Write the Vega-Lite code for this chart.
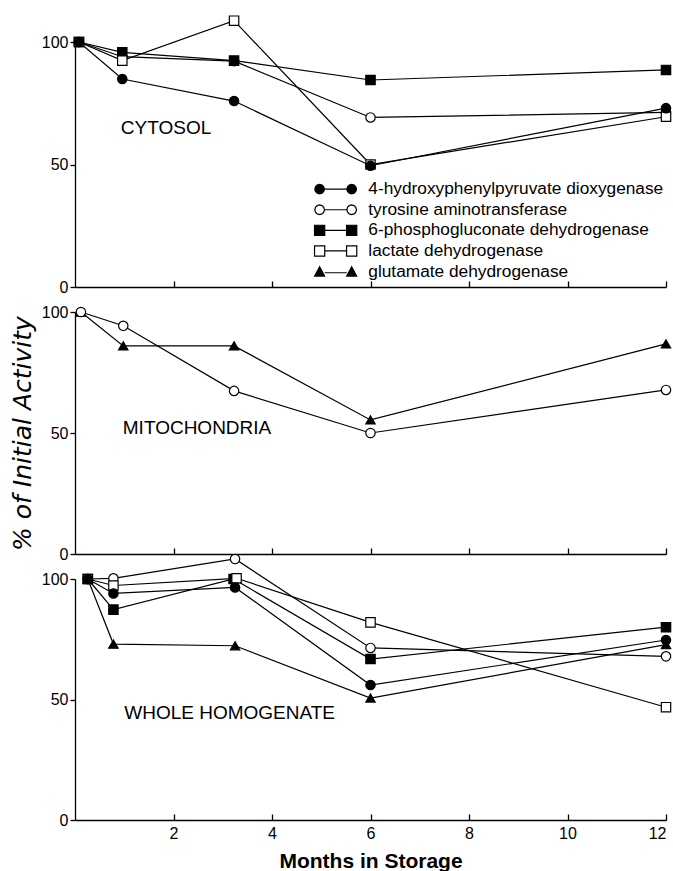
{
  "$schema": "https://vega.github.io/schema/vega-lite/v6.json",
  "padding": {"left": 10, "top": 13, "right": 0, "bottom": 0},
  "background": "white",
  "datasets": {
    "enz": [
      {"panel": "C", "enzyme": "tyrosine aminotransferase", "month": 0.08, "value": 100},
      {"panel": "C", "enzyme": "tyrosine aminotransferase", "month": 0.96, "value": 94},
      {"panel": "C", "enzyme": "tyrosine aminotransferase", "month": 3.23, "value": 92.2},
      {"panel": "C", "enzyme": "tyrosine aminotransferase", "month": 6, "value": 69.2},
      {"panel": "C", "enzyme": "tyrosine aminotransferase", "month": 12, "value": 71.3},
      {"panel": "C", "enzyme": "6-phosphogluconate dehydrogenase", "month": 0.08, "value": 100},
      {"panel": "C", "enzyme": "6-phosphogluconate dehydrogenase", "month": 0.96, "value": 95.8},
      {"panel": "C", "enzyme": "6-phosphogluconate dehydrogenase", "month": 3.23, "value": 92.4},
      {"panel": "C", "enzyme": "6-phosphogluconate dehydrogenase", "month": 6, "value": 84.5},
      {"panel": "C", "enzyme": "6-phosphogluconate dehydrogenase", "month": 12, "value": 88.6},
      {"panel": "C", "enzyme": "lactate dehydrogenase", "month": 0.08, "value": 100},
      {"panel": "C", "enzyme": "lactate dehydrogenase", "month": 0.96, "value": 92.4},
      {"panel": "C", "enzyme": "lactate dehydrogenase", "month": 3.23, "value": 108.7},
      {"panel": "C", "enzyme": "lactate dehydrogenase", "month": 6, "value": 50},
      {"panel": "C", "enzyme": "lactate dehydrogenase", "month": 12, "value": 69.5},
      {"panel": "C", "enzyme": "4-hydroxyphenylpyruvate dioxygenase", "month": 0.08, "value": 100},
      {"panel": "C", "enzyme": "4-hydroxyphenylpyruvate dioxygenase", "month": 0.96, "value": 84.9},
      {"panel": "C", "enzyme": "4-hydroxyphenylpyruvate dioxygenase", "month": 3.23, "value": 75.9},
      {"panel": "C", "enzyme": "4-hydroxyphenylpyruvate dioxygenase", "month": 6, "value": 49.5},
      {"panel": "C", "enzyme": "4-hydroxyphenylpyruvate dioxygenase", "month": 12, "value": 73},
      {"panel": "M", "enzyme": "glutamate dehydrogenase", "month": 0.12, "value": 100},
      {"panel": "M", "enzyme": "glutamate dehydrogenase", "month": 0.98, "value": 86},
      {"panel": "M", "enzyme": "glutamate dehydrogenase", "month": 3.23, "value": 86},
      {"panel": "M", "enzyme": "glutamate dehydrogenase", "month": 6, "value": 55.4},
      {"panel": "M", "enzyme": "glutamate dehydrogenase", "month": 12, "value": 86.8},
      {"panel": "M", "enzyme": "tyrosine aminotransferase", "month": 0.12, "value": 100},
      {"panel": "M", "enzyme": "tyrosine aminotransferase", "month": 0.98, "value": 94.3},
      {"panel": "M", "enzyme": "tyrosine aminotransferase", "month": 3.23, "value": 67.4},
      {"panel": "M", "enzyme": "tyrosine aminotransferase", "month": 6, "value": 50},
      {"panel": "M", "enzyme": "tyrosine aminotransferase", "month": 12, "value": 67.8},
      {"panel": "W", "enzyme": "tyrosine aminotransferase", "month": 0.26, "value": 100},
      {"panel": "W", "enzyme": "tyrosine aminotransferase", "month": 0.78, "value": 100.3},
      {"panel": "W", "enzyme": "tyrosine aminotransferase", "month": 3.25, "value": 108.3},
      {"panel": "W", "enzyme": "tyrosine aminotransferase", "month": 6, "value": 71.4},
      {"panel": "W", "enzyme": "tyrosine aminotransferase", "month": 12, "value": 67.9},
      {"panel": "W", "enzyme": "6-phosphogluconate dehydrogenase", "month": 0.26, "value": 100},
      {"panel": "W", "enzyme": "6-phosphogluconate dehydrogenase", "month": 0.78, "value": 87.3},
      {"panel": "W", "enzyme": "6-phosphogluconate dehydrogenase", "month": 3.22, "value": 100},
      {"panel": "W", "enzyme": "6-phosphogluconate dehydrogenase", "month": 6, "value": 66.8},
      {"panel": "W", "enzyme": "6-phosphogluconate dehydrogenase", "month": 12, "value": 80},
      {"panel": "W", "enzyme": "lactate dehydrogenase", "month": 0.26, "value": 100},
      {"panel": "W", "enzyme": "lactate dehydrogenase", "month": 0.78, "value": 97.3},
      {"panel": "W", "enzyme": "lactate dehydrogenase", "month": 3.28, "value": 100.3},
      {"panel": "W", "enzyme": "lactate dehydrogenase", "month": 6, "value": 82},
      {"panel": "W", "enzyme": "lactate dehydrogenase", "month": 12, "value": 46.8},
      {"panel": "W", "enzyme": "glutamate dehydrogenase", "month": 0.26, "value": 100},
      {"panel": "W", "enzyme": "glutamate dehydrogenase", "month": 0.78, "value": 73},
      {"panel": "W", "enzyme": "glutamate dehydrogenase", "month": 3.25, "value": 72.3},
      {"panel": "W", "enzyme": "glutamate dehydrogenase", "month": 6, "value": 50.6},
      {"panel": "W", "enzyme": "glutamate dehydrogenase", "month": 12, "value": 72.8},
      {"panel": "W", "enzyme": "4-hydroxyphenylpyruvate dioxygenase", "month": 0.26, "value": 100},
      {"panel": "W", "enzyme": "4-hydroxyphenylpyruvate dioxygenase", "month": 0.78, "value": 94},
      {"panel": "W", "enzyme": "4-hydroxyphenylpyruvate dioxygenase", "month": 3.25, "value": 96.5},
      {"panel": "W", "enzyme": "4-hydroxyphenylpyruvate dioxygenase", "month": 6, "value": 56},
      {"panel": "W", "enzyme": "4-hydroxyphenylpyruvate dioxygenase", "month": 12, "value": 74.7}
    ]
  },
  "config": {
    "view": {"stroke": null},
    "axis": {
      "grid": false,
      "domainColor": "black",
      "domainWidth": 1.3,
      "tickColor": "black",
      "tickWidth": 1.3,
      "labelColor": "black",
      "labelFont": "Liberation Sans",
      "labelFontSize": 16,
      "titleColor": "black",
      "titleFont": "Liberation Sans"
    },
    "legend": {"labelFont": "Liberation Sans", "labelColor": "black"}
  },
  "bounds": "flush",
  "spacing": 25,
  "resolve": {
    "scale": {"shape": "independent", "fill": "independent"},
    "legend": {"shape": "independent", "fill": "independent"}
  },
  "vconcat": [
    {
      "width": 591,
      "height": 245,
      "data": {"name": "enz"},
      "transform": [{"filter": "datum.panel === 'C'"}],
      "resolve": {"scale": {"shape": "independent", "fill": "independent"}, "legend": {"shape": "independent", "fill": "independent"}},
      "encoding": {
        "x": {"field": "month", "type": "quantitative", "scale": {"domain": [0, 12], "nice": false, "zero": false},
              "axis": {"values": [2, 4, 6, 8, 10, 12], "labels": false, "tickSize": -6, "title": null}},
        "y": {"field": "value", "type": "quantitative", "scale": {"domain": [0, 100], "nice": false},
              "axis": {"values": [0, 50, 100], "tickSize": 5, "labelPadding": 2, "title": null}}
      },
      "layer": [
        {"mark": {"type": "line", "color": "black", "strokeWidth": 1.2}, "encoding": {"detail": {"field": "enzyme"}}},
        {
          "mark": {"type": "point", "filled": true, "stroke": "black", "strokeWidth": 1.2, "opacity": 1, "size": 88},
          "encoding": {
            "shape": {"field": "enzyme", "type": "nominal",
              "scale": {"domain": ["4-hydroxyphenylpyruvate dioxygenase", "tyrosine aminotransferase", "6-phosphogluconate dehydrogenase", "lactate dehydrogenase", "glutamate dehydrogenase"],
                        "range": ["circle", "circle", "square", "square", "triangle-up"]}, "legend": null},
            "fill": {"field": "enzyme", "type": "nominal",
              "scale": {"domain": ["4-hydroxyphenylpyruvate dioxygenase", "tyrosine aminotransferase", "6-phosphogluconate dehydrogenase", "lactate dehydrogenase", "glutamate dehydrogenase"],
                        "range": ["black", "white", "black", "white", "black"]}, "legend": null}
          }
        },
        {
          "transform": [{"filter": "false"}],
          "mark": {"type": "point", "filled": true, "stroke": "black", "strokeWidth": 1.2, "opacity": 1},
          "encoding": {
            "shape": {"field": "enzyme", "type": "nominal",
              "scale": {"domain": ["4-hydroxyphenylpyruvate dioxygenase", "tyrosine aminotransferase", "6-phosphogluconate dehydrogenase", "lactate dehydrogenase", "glutamate dehydrogenase"],
                        "range": [
                          "M-1.87,0L-1.977,0.4L-2.27,0.693L-2.67,0.8L-3.07,0.693L-3.363,0.4L-3.47,0L-3.363,-0.4L-3.07,-0.693L-2.67,-0.8L-2.27,-0.693L-1.977,-0.4ZM-1.87,0L1.87,0M3.47,0L3.363,0.4L3.07,0.693L2.67,0.8L2.27,0.693L1.977,0.4L1.87,0L1.977,-0.4L2.27,-0.693L2.67,-0.8L3.07,-0.693L3.363,-0.4Z",
                          "M-1.87,0L-1.977,0.4L-2.27,0.693L-2.67,0.8L-3.07,0.693L-3.363,0.4L-3.47,0L-3.363,-0.4L-3.07,-0.693L-2.67,-0.8L-2.27,-0.693L-1.977,-0.4ZM-1.87,0L1.87,0M3.47,0L3.363,0.4L3.07,0.693L2.67,0.8L2.27,0.693L1.977,0.4L1.87,0L1.977,-0.4L2.27,-0.693L2.67,-0.8L3.07,-0.693L3.363,-0.4Z",
                          "M-3.52,-0.85L-1.82,-0.85L-1.82,0.85L-3.52,0.85ZM-1.82,0L1.82,0M1.82,-0.85L3.52,-0.85L3.52,0.85L1.82,0.85Z",
                          "M-3.52,-0.85L-1.82,-0.85L-1.82,0.85L-3.52,0.85ZM-1.82,0L1.82,0M1.82,-0.85L3.52,-0.85L3.52,0.85L1.82,0.85Z",
                          "M-3.5,0.75L-2.67,-0.8L-1.84,0.75ZM-1.84,0.2L1.84,0.2M1.84,0.75L2.67,-0.8L3.5,0.75Z"
                        ]},
              "legend": {
                "title": null, "orient": "none", "legendX": 252, "legendY": 138.5,
                "symbolSize": 144, "labelFontSize": 17.3, "labelOffset": 24, "rowPadding": 2.6, "labelLimit": 400, "padding": 0,
                "symbolOpacity": 1, "symbolStrokeWidth": 1.2
              }},
            "fill": {"field": "enzyme", "type": "nominal",
              "scale": {"domain": ["4-hydroxyphenylpyruvate dioxygenase", "tyrosine aminotransferase", "6-phosphogluconate dehydrogenase", "lactate dehydrogenase", "glutamate dehydrogenase"],
                        "range": ["black", "white", "black", "white", "black"]}}
          }
        },
        {
          "transform": [{"filter": "datum.month === 12 && datum.enzyme === 'lactate dehydrogenase'"}],
          "mark": {"type": "text", "align": "left", "baseline": "middle", "fontSize": 19, "font": "Liberation Sans", "color": "black", "text": "CYTOSOL"},
          "encoding": {"x": {"datum": 0.93}, "y": {"datum": 65}}
        }
      ]
    },
    {
      "width": 591,
      "height": 242,
      "data": {"name": "enz"},
      "transform": [{"filter": "datum.panel === 'M'"}],
      "encoding": {
        "x": {"field": "month", "type": "quantitative", "scale": {"domain": [0, 12], "nice": false, "zero": false},
              "axis": {"values": [2, 4, 6, 8, 10, 12], "labels": false, "tickSize": -6, "title": null}},
        "y": {"field": "value", "type": "quantitative", "scale": {"domain": [0, 100], "nice": false},
              "axis": {"values": [0, 50, 100], "tickSize": 5, "labelPadding": 2, "title": "% of Initial Activity",
                       "titleFont": "DejaVu Sans", "titleFontSize": 25, "titleFontStyle": "italic", "titleFontWeight": "normal", "titlePadding": 6}}
      },
      "layer": [
        {"mark": {"type": "line", "color": "black", "strokeWidth": 1.2}, "encoding": {"detail": {"field": "enzyme"}}},
        {
          "mark": {"type": "point", "filled": true, "stroke": "black", "strokeWidth": 1.2, "opacity": 1, "size": 88},
          "encoding": {
            "shape": {"field": "enzyme", "type": "nominal",
              "scale": {"domain": ["4-hydroxyphenylpyruvate dioxygenase", "tyrosine aminotransferase", "6-phosphogluconate dehydrogenase", "lactate dehydrogenase", "glutamate dehydrogenase"],
                        "range": ["circle", "circle", "square", "square", "triangle-up"]}, "legend": null},
            "fill": {"field": "enzyme", "type": "nominal",
              "scale": {"domain": ["4-hydroxyphenylpyruvate dioxygenase", "tyrosine aminotransferase", "6-phosphogluconate dehydrogenase", "lactate dehydrogenase", "glutamate dehydrogenase"],
                        "range": ["black", "white", "black", "white", "black"]}, "legend": null}
          }
        },
        {
          "transform": [{"filter": "datum.month === 12 && datum.enzyme === 'tyrosine aminotransferase'"}],
          "mark": {"type": "text", "align": "left", "baseline": "middle", "fontSize": 19, "font": "Liberation Sans", "color": "black", "text": "MITOCHONDRIA"},
          "encoding": {"x": {"datum": 0.97}, "y": {"datum": 52}}
        }
      ]
    },
    {
      "width": 591,
      "height": 241,
      "data": {"name": "enz"},
      "transform": [{"filter": "datum.panel === 'W'"}],
      "encoding": {
        "x": {"field": "month", "type": "quantitative", "scale": {"domain": [0, 12], "nice": false, "zero": false},
              "axis": {"values": [2, 4, 6, 8, 10, 12], "tickSize": -6, "labelPadding": 11, "labelFontSize": 16, "title": "Months in Storage",
                       "titleFontSize": 21, "titleFontWeight": "bold", "titlePadding": 9}},
        "y": {"field": "value", "type": "quantitative", "scale": {"domain": [0, 100], "nice": false},
              "axis": {"values": [0, 50, 100], "tickSize": 5, "labelPadding": 2, "title": null}}
      },
      "layer": [
        {"mark": {"type": "line", "color": "black", "strokeWidth": 1.2}, "encoding": {"detail": {"field": "enzyme"}}},
        {
          "mark": {"type": "point", "filled": true, "stroke": "black", "strokeWidth": 1.2, "opacity": 1, "size": 88},
          "encoding": {
            "shape": {"field": "enzyme", "type": "nominal",
              "scale": {"domain": ["4-hydroxyphenylpyruvate dioxygenase", "tyrosine aminotransferase", "6-phosphogluconate dehydrogenase", "lactate dehydrogenase", "glutamate dehydrogenase"],
                        "range": ["circle", "circle", "square", "square", "triangle-up"]}, "legend": null},
            "fill": {"field": "enzyme", "type": "nominal",
              "scale": {"domain": ["4-hydroxyphenylpyruvate dioxygenase", "tyrosine aminotransferase", "6-phosphogluconate dehydrogenase", "lactate dehydrogenase", "glutamate dehydrogenase"],
                        "range": ["black", "white", "black", "white", "black"]}, "legend": null}
          }
        },
        {
          "transform": [{"filter": "datum.month === 12 && datum.enzyme === 'lactate dehydrogenase'"}],
          "mark": {"type": "text", "align": "left", "baseline": "middle", "fontSize": 19, "font": "Liberation Sans", "color": "black", "text": "WHOLE HOMOGENATE"},
          "encoding": {"x": {"datum": 1.0}, "y": {"datum": 44.4}}
        }
      ]
    }
  ]
}
